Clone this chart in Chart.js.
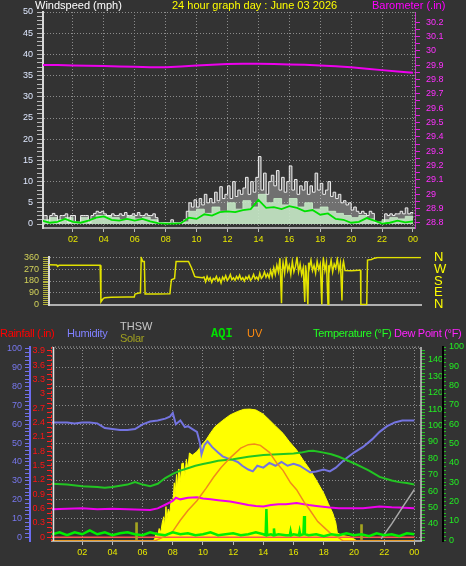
<!DOCTYPE html>
<html>
<head>
<meta charset="utf-8">
<script src="https://cdn.jsdelivr.net/npm/chart.js@4.4.1/dist/chart.umd.min.js"></script>
<style>
html, body { margin: 0; padding: 0; background: #333333; width: 466px; height: 566px; overflow: hidden; }
body { position: relative; font-family: "Liberation Sans", Arial, sans-serif; }
canvas { position: absolute; left: 0; }
.t { position: absolute; white-space: nowrap; font-size: 11px; line-height: 13px; }
.lg { letter-spacing: -0.3px; }
</style>
</head>
<body>
<canvas id="windChart" style="top:0" width="466" height="248"></canvas>
<canvas id="dirChart" style="top:236px" width="466" height="90"></canvas>
<canvas id="outChart" style="top:318px" width="466" height="248"></canvas>

<div class="t" style="left:35px;top:-1px;color:#ffffff">Windspeed (mph)</div>
<div class="t" style="left:172px;top:-1px;color:#ffff00">24 hour graph day : June 03 2026</div>
<div class="t" style="left:372px;top:-1px;color:#ff00ff">Barometer (.in)</div>

<div class="t lg" style="left:0;top:326.5px;color:#ff0000">Rainfall (.in)</div>
<div class="t lg" style="left:67px;top:326.5px;color:#8080ff">Humidity</div>
<div class="t" style="left:120px;top:319.5px;color:#c8c8c8">THSW</div>
<div class="t lg" style="left:120px;top:331.5px;color:#a0a020">Solar</div>
<div class="t" style="left:211px;top:327.5px;color:#00e000;font:bold 12px 'Liberation Mono', monospace;line-height:13px">AQI</div>
<div class="t" style="left:247px;top:326.5px;color:#ff8c10">UV</div>
<div class="t lg" style="left:313px;top:326.5px;color:#22ff22">Temperature (°F)</div>
<div class="t lg" style="left:394px;top:326.5px;color:#ff22ff">Dew Point (°F)</div>

<script>
// ---- wind / barometer (top panel) ----
// gusts every 10 min, 00:00 .. 24:00 (one row per hour)
const gust = [
  2, 2, 0.3, 2, 2.5, 2,
  0.3, 2, 2, 2.4, 0.3, 2,
  2, 0.3, 0.3, 2, 2, 2,
  0.3, 2, 2.5, 3, 2.7, 3,
  2.4, 2, 2, 2.4, 2, 2,
  2.4, 2, 2.7, 2, 2, 2.4,
  2, 2.7, 2, 2, 2.4, 2,
  2, 2.4, 1.5, 0.3, 0.3, 0.3,
  0.3, 0.3, 1, 0.3, 0.3, 0.3,
  0.3, 1, 3, 5, 4, 5.7,
  4, 6, 4.5, 7, 5, 6,
  5, 7.5, 5.5, 8.8, 6, 7,
  9, 6, 10, 6.5, 8, 7,
  8.5, 11, 7, 10, 7.5, 11,
  15.9, 8, 12, 7, 10, 11.5,
  9, 12.6, 8, 11, 7.5, 10,
  13.7, 8, 10.5, 7, 9, 8,
  10, 7, 9, 7.5, 12, 8,
  9.6, 7, 8, 10, 6.5, 7.5,
  6, 7, 5, 5.5, 4.5, 5,
  3.3, 4, 3, 2.5, 3, 2.5,
  2, 3, 2.5, 0.3, 0.3, 0.3,
  0.3, 2.4, 2, 2.4, 2, 2.4,
  2.4, 3, 2.4, 3.8, 2.4, 2.7,
  2.5
];
// wind speed and average every 30 min
const speed = [1, 1.5, 1, 1.5, 0.5, 1.5, 1, 2, 2, 1.5, 1, 1.8, 1.2, 1.6, 1, 0.3,
  0.2, 0.2, 0.5, 3, 3.5, 2.5, 4, 3, 5, 3.5, 5.5, 4, 7, 5, 6, 4.5,
  6, 4, 5, 3.5, 4, 3, 2.5, 2, 1.5, 2, 1.2, 0.5, 1, 1.5, 1.2, 1.8, 1.5];
const avgWind = [0.8, 0.3, 0.5, 1.2, 0.5, 0.3, 0.8, 1.5, 1.8, 1, 0.8, 1.2, 0.8, 1.2, 0.6, 0.2,
  0.1, 0.1, 0.2, 1.5, 1.2, 2.3, 2, 2.8, 3, 2.8, 3.3, 3.5, 5.7, 3.8, 4, 3.5,
  4.2, 3.8, 3, 3.3, 2.2, 2.5, 1.2, 1, 0.3, 0.5, 1.4, 0.8, 0.1, 0.3, 0.8, 0.4, 0.6];
// barometer hourly
const baro = [29.90, 29.90, 29.898, 29.895, 29.893, 29.89, 29.888, 29.885, 29.885, 29.89,
  29.897, 29.903, 29.908, 29.91, 29.91, 29.908, 29.905, 29.902, 29.898, 29.892,
  29.885, 29.875, 29.865, 29.855, 29.847];

// ---- wind direction (middle panel) ----
const dirHours = [
  0, 0.5, 0.55, 0.65, 1, 2, 3.3, 3.35, 3.5, 3.6,
  4, 5, 5.5, 5.55, 5.8, 5.9, 5.95, 6.05, 6.15, 6.2,
  7, 7.8, 7.85, 7.9, 8.1, 8.2, 9, 9.2, 9.4, 9.5,
  9.9, 10, 10.1, 10.2, 10.3, 10.4, 10.5, 10.6, 10.7, 10.8,
  10.9, 11, 11.1, 11.2, 11.3, 11.4, 11.5, 11.6, 11.7, 11.8,
  11.9, 12, 12.1, 12.2, 12.3, 12.4, 12.5, 12.6, 12.7, 12.8,
  12.9, 13, 13.1, 13.2, 13.3, 13.4, 13.5, 13.6, 13.7, 13.8,
  13.9, 14, 14.1, 14.2, 14.3, 14.4, 14.5, 14.6, 14.7, 14.8,
  14.9, 15, 15.05, 15.1, 15.2, 15.3, 15.4, 15.5, 15.6, 15.7,
  15.8, 15.9, 16, 16.1, 16.2, 16.3, 16.4, 16.5, 16.55, 16.6,
  16.7, 16.75, 16.8, 16.9, 17, 17.1, 17.2, 17.3, 17.4, 17.5,
  17.6, 17.65, 17.7, 17.8, 17.9, 18, 18.05, 18.1, 18.2, 18.3,
  18.4, 18.5, 18.6, 18.7, 18.8, 18.9, 18.95, 19, 19.1, 19.5,
  20, 20.1, 20.12, 20.5, 20.55, 20.8, 21, 21.2, 24
];
const dirDeg = [
  305, 303, 292, 300, 300, 300, 300, 20, 45, 52,
  55, 57, 58, 80, 88, 90, 360, 330, 330, 80,
  80, 82, 140, 190, 200, 330, 330, 280, 215, 210,
  205, 210, 175, 215, 185, 205, 170, 200, 190, 215,
  180, 200, 165, 210, 190, 220, 185, 200, 230, 190,
  205, 185, 215, 195, 225, 190, 205, 180, 210, 195,
  220, 185, 200, 230, 195, 210, 190, 240, 200, 215,
  250, 210, 235, 205, 260, 215, 280, 230, 300, 250,
  355, 10, 270, 320, 240, 350, 260, 300, 230, 330,
  250, 290, 360, 250, 310, 230, 280, 20, 300, 250,
  0, 320, 280, 340, 260, 300, 240, 330, 270, 310,
  0, 290, 350, 260, 320, 0, 300, 270, 340, 250,
  310, 280, 350, 260, 320, 30, 300, 330, 260, 258,
  262, 262, 0, 0, 340, 345, 355, 360, 360
];
const compass = { 0: 'N', 90: 'E', 180: 'S', 270: 'W', 360: 'N' };

// ---- outside (bottom panel) ----
const humHours = [0, 0.5, 1, 1.5, 2, 2.5, 3, 3.5, 4, 4.5,
  5, 5.5, 6, 6.5, 7, 7.5, 7.8, 8, 8.2, 8.5,
  8.8, 9, 9.3, 9.6, 9.8, 9.9, 10.1, 10.3, 10.6, 11,
  11.3, 11.6, 12, 12.3, 12.6, 13, 13.3, 13.6, 14, 14.4,
  14.8, 15.2, 15.6, 16, 16.4, 16.8, 17.1, 17.5, 18, 18.4,
  18.8, 19.2, 19.5, 20, 20.6, 21.2, 21.7, 22.2, 22.7, 23.2, 24];
const humVals = [61, 61, 61, 60.5, 61, 61, 60.5, 58, 57.5, 57,
  57, 57.5, 60, 61.5, 62, 63, 64, 66, 60, 62,
  58.5, 59, 57.5, 56, 50, 44, 49, 51, 48, 45,
  43, 42, 41, 40, 38, 36, 35, 38, 37, 39.5,
  38, 40, 38, 39, 38, 36, 34.5, 35, 36, 35,
  37, 40, 42, 45, 48, 52, 56, 59, 61, 62, 62];
const tempHours = [0, 1, 2, 3, 3.5, 4, 5, 5.5, 6, 6.5,
  7, 7.5, 8, 8.5, 9, 9.5, 10, 10.5, 11, 12,
  13, 14, 15, 16, 16.5, 17, 17.3, 18, 18.5, 19,
  19.5, 20, 20.6, 21, 21.7, 22.5, 23, 23.5, 24];
const tempVals = [64.5, 64, 63, 62.5, 62, 62.5, 64, 65.5, 64, 63,
  64.5, 68, 70.5, 72.5, 74, 75.5, 76.5, 77.5, 78.5, 79.5,
  81, 82, 82.5, 83, 83.5, 84.5, 84.6, 83.5, 82.5, 81,
  79, 77, 74.4, 72.5, 68.7, 66.5, 65.5, 65, 64];
const dewHours = [0, 1, 2, 3, 4, 5, 6, 6.5, 7, 7.5,
  8, 8.2, 8.5, 9, 9.6, 10, 10.5, 11, 11.8, 12.5,
  13, 13.5, 14, 14.5, 15, 15.5, 16.2, 17, 17.5, 18.4,
  19, 20, 20.6, 21.7, 22.5, 23, 24];
const dewVals = [49, 49.3, 49.5, 49, 49.3, 49, 48.7, 48.5, 49.5, 51.7,
  54, 56, 55, 56, 56.3, 55.5, 55, 54.5, 53.7, 52.5,
  51.5, 51, 50.7, 51.5, 52, 52, 52.7, 51.5, 51, 50,
  49.5, 49.5, 49.6, 50.7, 50.2, 50, 49.6];
const solarHours = [0, 6.7, 6.8, 6.9, 7.0, 7.1, 7.2, 7.3, 7.4, 7.45,
  7.55, 7.6, 7.7, 7.8, 7.9, 8.0, 8.1, 8.15, 8.25, 8.3,
  8.4, 8.5, 8.6, 8.7, 8.8, 8.9, 9.0, 9.1, 9.3, 9.6,
  9.9, 10.2, 10.5, 10.8, 11.3, 11.8, 12.3, 12.7, 13.1, 13.5,
  14.0, 14.4, 14.8, 15.3, 15.7, 16.2, 16.6, 17.1, 17.5, 18.0,
  18.3, 18.6, 18.8, 18.9, 19.2, 19.7, 20.0, 20.2, 24];
const solarVals = [0, 0, 15, 60, 40, 90, 60, 130, 175, 100,
  248, 150, 230, 200, 300, 270, 420, 330, 480, 380,
  520, 430, 560, 563, 470, 590, 520, 635, 620, 645,
  690, 729, 780, 825, 870, 910, 935, 950, 952, 946,
  915, 873, 830, 777, 720, 657, 590, 512, 440, 344,
  270, 200, 130, 58, 40, 31, 15, 0, 0];
const uvHours = [0, 6.8, 7.4, 8.0, 8.5, 9.0, 9.6, 10.2, 10.7, 11.2,
  11.8, 12.5, 13.0, 13.4, 13.8, 14.4, 14.9, 15.3, 15.8, 16.2,
  16.7, 17.1, 17.6, 18.0, 18.5, 18.9, 19.3, 24];
const uvVals = [0, 0, 0.3, 0.7, 1.5, 2.2, 2.9, 3.8, 4.6, 5.3,
  6, 6.7, 6.95, 7.0, 6.9, 6.4, 5.6, 5.1, 4.2, 3.7,
  2.8, 2.2, 1.4, 1.0, 0.5, 0.3, 0, 0];
const aqiHours = [0, 0.5, 1, 1.5, 2, 2.5, 3, 3.5, 4, 4.5,
  5, 5.5, 6, 6.5, 7, 7.5, 8, 8.5, 9, 9.5,
  10, 10.5, 11, 11.5, 12, 12.5, 13, 13.5, 14, 14.15,
  14.2, 14.25, 14.5, 14.65, 14.7, 14.75, 15, 15.5, 15.75, 15.8,
  15.85, 16, 16.35, 16.4, 16.45, 16.65, 16.7, 16.75, 17, 17.5,
  18, 18.5, 19, 19.5, 20, 20.5, 21, 21.5, 22, 22.5,
  23, 23.5, 24];
const aqiVals = [3, 4, 2.5, 4, 3, 5, 3, 4, 2.5, 3.5,
  4, 3, 2.5, 4, 3, 2.5, 4, 3, 3.5, 2.5,
  3, 4, 2.5, 3, 3.5, 2.5, 3, 4, 3, 2.5,
  16, 2.5, 3, 2.5, 6, 2.5, 3, 2.5, 2.5, 4.5,
  2.5, 3, 2.5, 4.5, 2.5, 3, 12.4, 3, 2.5, 3,
  2, 3, 2.5, 3.5, 2.5, 3, 2, 3.5, 2.5, 3,
  2, 3.5, 3];
const rainHours = [0, 24];
const rainVals = [0, 0];
const thswHours = [21.8, 22.5, 23.2, 24];
const thswVals = [31, 40, 50, 61];
const olivHours = [5.6, 20.5];
const olivVals = [9, 8];

const hourTicks = [2, 4, 6, 8, 10, 12, 14, 16, 18, 20, 22, 24];
const hourLabel = v => v === 24 ? '00' : String(v).padStart(2, '0');

const pts = (xs, ys) => xs.map((x, i) => ({ x, y: ys[i] }));
const steps = (ys, step) => ys.map((y, i) => ({ x: i * step, y }));
const range = (a, b, s) => { const r = []; for (let v = a; v <= b + 1e-9; v += s) r.push(Math.round(v * 1000) / 1000); return r; };
const setTicks = arr => s => { s.ticks = arr.map(v => ({ value: v })); };
const GRID = '#8c8c8c';
const CLEAR = 'rgba(0,0,0,0)';

// draws plot-frame edges / dashed axis lines
const edges = {
  id: 'edges',
  afterDatasetsDraw(chart, args, opts) {
    const { ctx, chartArea: a } = chart;
    (opts.lines || []).forEach(l => {
      const o = l.offset || 0;
      ctx.save();
      ctx.strokeStyle = l.color;
      ctx.lineWidth = l.width || 1;
      ctx.setLineDash(l.dash || []);
      ctx.beginPath();
      if (l.side === 'top') { ctx.moveTo(a.left, a.top - o); ctx.lineTo(a.right, a.top - o); }
      if (l.side === 'bottom') { ctx.moveTo(a.left, a.bottom + o); ctx.lineTo(a.right, a.bottom + o); }
      if (l.side === 'left') { ctx.moveTo(a.left - o, a.top); ctx.lineTo(a.left - o, a.bottom); }
      if (l.side === 'right') { ctx.moveTo(a.right + o, a.top); ctx.lineTo(a.right + o, a.bottom); }
      ctx.stroke();
      ctx.restore();
    });
  }
};
Chart.register(edges);

Chart.defaults.font.family = "'Liberation Sans', Arial, sans-serif";
Chart.defaults.font.size = 9;

const base = {
  responsive: false,
  animation: false,
  events: [],
  elements: { point: { radius: 0 }, line: { tension: 0 } },
};

// ---------- top: wind + barometer ----------
new Chart(document.getElementById('windChart'), {
  type: 'line',
  data: {
    datasets: [
      { data: steps(avgWind, 0.5), yAxisID: 'wind', borderColor: '#00e000', borderWidth: 1.8 },
      { data: steps(baro, 1), yAxisID: 'baro', borderColor: '#ee00ee', borderWidth: 2 },
      { data: steps(gust, 1 / 6), yAxisID: 'wind', borderColor: '#f0f0f0', borderWidth: 1, stepped: true,
        backgroundColor: 'rgba(225,225,225,0.35)', fill: 'origin' },
      { data: steps(speed, 0.5), yAxisID: 'wind', borderColor: 'rgba(185,240,185,0.9)', backgroundColor: 'rgba(185,240,185,0.85)',
        borderWidth: 1, stepped: true, fill: 'origin' },
    ]
  },
  options: {
    ...base,
    layout: { padding: { top: 12, left: 0, right: 0, bottom: 0 } },
    plugins: { legend: { display: false }, tooltip: { enabled: false },
      edges: { lines: [{ side: 'right', color: '#a0a0a0', dash: [1, 2] }] } },
    scales: {
      x: {
        type: 'linear', min: 0.065, max: 24.13, offset: false,
        afterBuildTicks: setTicks(hourTicks),
        afterFit: s => { s.height = 20; },
        ticks: { color: '#e6e600', padding: 2, maxRotation: 0, autoSkip: false, callback: hourLabel },
        grid: { color: GRID, tickLength: 4, tickColor: '#bbbbbb' },
        border: { color: '#a8a8a8', width: 2, dash: [1, 2] }
      },
      wind: {
        position: 'left', min: -0.94, max: 50,
        afterBuildTicks: setTicks(range(0, 50, 1)),
        afterFit: s => { s.width = 43; },
        ticks: { color: '#dfe8ff', padding: 4, autoSkip: false, callback: v => v % 5 === 0 ? v : '' },
        grid: { color: c => c.tick && c.tick.value % 5 === 0 ? GRID : CLEAR, tickLength: 6, tickColor: '#b8b8b8' },
        border: { color: '#d8d8d8', width: 2, dash: [1, 2] }
      },
      baro: {
        position: 'right', min: 28.765, max: 30.27,
        afterBuildTicks: setTicks(range(28.8, 30.2, 0.05)),
        afterFit: s => { s.width = 51; },
        ticks: { color: '#ff30ff', padding: 6, autoSkip: false,
          callback: v => Math.round(v * 100) % 10 === 0 ? String(Number(v.toFixed(1))) : '' },
        grid: { drawOnChartArea: false, tickLength: 5, tickColor: '#e020e0' },
        border: { color: '#cc20cc', width: 1 }
      }
    }
  }
});

// ---------- middle: wind direction ----------
new Chart(document.getElementById('dirChart'), {
  type: 'line',
  data: {
    datasets: [
      { data: pts(dirHours, dirDeg), yAxisID: 'dirL', borderColor: '#e2e200', borderWidth: 1.5 }
    ]
  },
  options: {
    ...base,
    layout: { padding: { top: 15, left: 0, right: 0, bottom: 0 } },
    plugins: { legend: { display: false }, tooltip: { enabled: false } },
    scales: {
      x: {
        type: 'linear', min: 0, max: 24, offset: false,
        afterFit: s => { s.height = 9; },
        ticks: { display: false },
        grid: { drawOnChartArea: false, drawTicks: false },
        border: { color: '#b0b0b0', width: 2 }
      },
      dirL: {
        position: 'left', min: -5.45, max: 365.45,
        afterBuildTicks: setTicks(range(0, 360, 15)),
        afterFit: s => { s.width = 49; },
        ticks: { color: '#d2d25a', padding: 4, autoSkip: false, callback: v => v % 90 === 0 ? v : '' },
        grid: { color: c => c.tick && c.tick.value % 90 === 0 ? GRID : CLEAR, tickLength: 6, tickColor: '#b4b43c' },
        border: { color: '#d8d8d8', width: 2, dash: [1, 2] }
      },
      dirR: {
        position: 'right', min: -5.45, max: 365.45,
        afterBuildTicks: setTicks([0, 90, 180, 270, 360]),
        afterFit: s => { s.width = 45; },
        ticks: { color: '#ffff00', padding: 13, autoSkip: false, font: { size: 13 }, callback: v => compass[v] },
        grid: { drawOnChartArea: false, drawTicks: false },
        border: { display: false }
      }
    }
  }
});

// ---------- bottom: outside conditions ----------
new Chart(document.getElementById('outChart'), {
  data: {
    datasets: [
      { type: 'line', data: pts(aqiHours, aqiVals), yAxisID: 'aqi', borderColor: '#00ee00', borderWidth: 2.5 },
      { type: 'bar', data: pts(olivHours, olivVals), yAxisID: 'aqi', backgroundColor: '#a4a420', barThickness: 2 },
      { type: 'line', data: pts(thswHours, thswVals), yAxisID: 'temp', borderColor: '#a8a8a8', borderWidth: 1.5 },
      { type: 'line', data: pts(uvHours, uvVals), yAxisID: 'uv', borderColor: '#f08a1c', borderWidth: 1.5 },
      { type: 'line', data: pts(dewHours, dewVals), yAxisID: 'temp', borderColor: '#ee00ee', borderWidth: 2 },
      { type: 'line', data: pts(tempHours, tempVals), yAxisID: 'temp', borderColor: '#22c522', borderWidth: 2 },
      { type: 'line', data: pts(humHours, humVals), yAxisID: 'hum', borderColor: '#7474e0', borderWidth: 2 },
      { type: 'line', data: pts(rainHours, rainVals), yAxisID: 'rain', borderColor: '#ff5050', borderWidth: 1.5 },
      { type: 'line', data: pts(solarHours, solarVals), yAxisID: 'solar', borderColor: '#ffff00', borderWidth: 1,
        backgroundColor: '#ffff00', fill: 'origin' },
    ]
  },
  options: {
    ...base,
    layout: { padding: { top: 29, left: 0, right: 0, bottom: 0 } },
    plugins: { legend: { display: false }, tooltip: { enabled: false },
      edges: { lines: [
        { side: 'top', color: '#a8a8a8', dash: [1, 2] },
        { side: 'right', color: '#c8c8c8', width: 1.5 },
        { side: 'left', color: '#ff2020', width: 1, dash: [2, 2], offset: 0.5 },
        { side: 'left', color: '#e0e0e0', width: 1.5, offset: -1.5 }
      ] } },
    scales: {
      x: {
        type: 'linear', min: 0, max: 24.44, offset: false,
        afterBuildTicks: setTicks(hourTicks),
        afterFit: s => { s.height = 25; },
        ticks: { color: '#e6e600', padding: 2, maxRotation: 0, autoSkip: false, callback: hourLabel },
        grid: { color: GRID, offset: false, tickLength: 4, tickColor: '#bbbbbb' },
        border: { color: '#a8a8a8', width: 2, dash: [1, 2] }
      },
      rain: {
        position: 'left', min: -0.077, max: 3.977,
        afterBuildTicks: setTicks(range(0, 3.9, 0.1)),
        afterFit: s => { s.width = 22; },
        ticks: { color: '#ff1414', padding: 2, autoSkip: false,
          callback: v => Math.round(v * 10) % 3 === 0 ? String(Number(v.toFixed(1))) : '' },
        grid: { drawOnChartArea: false, tickLength: 5, tickColor: '#ff2020' },
        border: { display: false }
      },
      hum: {
        position: 'left', min: -1.96, max: 101.06,
        afterBuildTicks: setTicks(range(0, 100, 2)),
        afterFit: s => { s.width = 30; },
        ticks: { color: '#7878ee', padding: 3, autoSkip: false, callback: v => v % 10 === 0 ? v : '' },
        grid: { color: c => c.tick && c.tick.value % 10 === 0 ? GRID : CLEAR, tickLength: 5, tickColor: '#7070e6' },
        border: { color: '#6c6cf0', width: 2, dash: [1, 2] }
      },
      temp: {
        position: 'right', min: 29.6, max: 147.9,
        afterBuildTicks: setTicks(range(30, 146, 2)),
        afterFit: s => { s.width = 22; },
        ticks: { color: '#22ee22', padding: 3, autoSkip: false,
          callback: v => v % 10 === 0 && v >= 40 && v <= 140 ? v : '' },
        grid: { drawOnChartArea: false, tickLength: 4, tickColor: '#20c020' },
        border: { display: false }
      },
      aqi: {
        position: 'right', min: -0.5, max: 100,
        afterBuildTicks: setTicks(range(0, 100, 2)),
        afterFit: s => { s.width = 23; },
        ticks: { color: '#22ee22', padding: 3, autoSkip: false, callback: v => v % 10 === 0 ? v : '' },
        grid: { drawOnChartArea: false, tickLength: 3, tickColor: '#20c020' },
        border: { color: '#000000', width: 2 }
      },
      uv: { display: false, min: 0, max: 14 },
      solar: { display: false, min: 0, max: 1400 }
    }
  }
});
</script>
</body>
</html>
